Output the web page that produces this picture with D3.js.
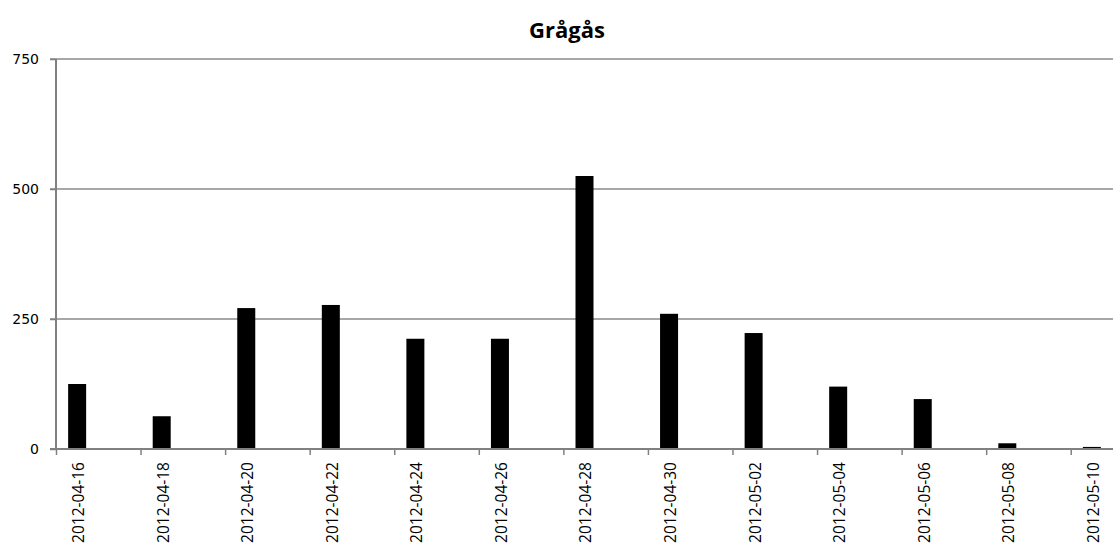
<!DOCTYPE html>
<html>
<head>
<meta charset="utf-8">
<script src="https://cdn.jsdelivr.net/npm/d3@7"></script>
<style>
  body { margin: 0; background: #fff; }
  svg { display: block; }
</style>
</head>
<body>
<svg id="chart" width="1113" height="546"></svg>
<script>
const title = "Grågås";
const dates = ["2012-04-16","2012-04-18","2012-04-20","2012-04-22","2012-04-24","2012-04-26","2012-04-28","2012-04-30","2012-05-02","2012-05-04","2012-05-06","2012-05-08","2012-05-10"];
const values = [125, 63, 271, 277, 212, 212, 525, 260, 223, 120, 96, 11, 4];
const yTicks = [0, 250, 500, 750];

(function () {
const parse = d3.utcParse("%Y-%m-%d");
const fmt = d3.utcFormat("%Y-%m-%d");
const svg = d3.select("#chart");
const mLeft = 56, mRight = 1113, mTop = 59, mBottom = 449;

const start = parse(dates[0]);
const end = d3.utcDay.offset(parse(dates[dates.length - 1]), 1);
const x = d3.scaleUtc().domain([start, end]).range([mLeft, mRight]);
const y = d3.scaleLinear().domain([0, 750]).range([mBottom, mTop]);
const half = d => d3.utcHour.offset(d, 12);
const barW = 18;

// gridlines
svg.append("g").selectAll("line").data(yTicks.filter(t => t > 0)).join("line")
  .attr("x1", mLeft - 6).attr("x2", mRight)
  .attr("y1", d => y(d)).attr("y2", d => y(d))
  .attr("stroke", "#8a8a8a").attr("stroke-width", 1.5);

// y axis
const yAxis = svg.append("g").attr("transform", `translate(${mLeft},0)`)
  .call(d3.axisLeft(y).tickValues(yTicks).tickSize(6).tickPadding(11));
yAxis.select(".domain").attr("stroke", "#808080").attr("stroke-width", 2)
  .attr("d", `M0,${mTop}V${mBottom}`);
yAxis.selectAll(".tick line").attr("stroke", "#808080").attr("stroke-width", 1.5);
yAxis.selectAll("text").attr("font-family", "DejaVu Sans, Verdana, sans-serif")
  .attr("font-size", 14).attr("fill", "#000");

// bars
svg.append("g").selectAll("rect").data(dates.map((d, i) => ({d: parse(d), v: values[i]}))).join("rect")
  .attr("x", d => x(half(d.d)) - barW / 2)
  .attr("width", barW)
  .attr("y", d => y(d.v))
  .attr("height", d => y(0) - y(d.v))
  .attr("fill", "#000");

// x axis tick marks at boundaries
const tickDates = dates.map(parse);
const xAxisTicks = svg.append("g").attr("transform", `translate(0,${mBottom})`)
  .call(d3.axisBottom(x).tickValues(tickDates).tickSize(6).tickFormat(""));
xAxisTicks.select(".domain").attr("stroke", "#808080").attr("stroke-width", 2)
  .attr("d", `M${mLeft - 6},0H${mRight}`);
xAxisTicks.selectAll(".tick line").attr("stroke", "#808080").attr("stroke-width", 1.5);

// x labels at day centers
const xLabels = svg.append("g").attr("transform", `translate(0,${mBottom})`)
  .call(d3.axisBottom(x).tickValues(tickDates.map(half)).tickSize(0).tickFormat(d => fmt(d3.utcHour.offset(d, -12))));
xLabels.select(".domain").remove();
xLabels.selectAll("text")
  .attr("font-family", "Open Sans, Liberation Sans, sans-serif")
  .attr("font-size", 15.5).attr("fill", "#000")
  .attr("text-anchor", "end")
  .attr("transform", "rotate(-90)")
  .attr("x", -13).attr("y", 1).attr("dy", "0.35em");

// title
svg.append("text").attr("x", 567).attr("y", 38)
  .attr("text-anchor", "middle")
  .attr("font-family", "Open Sans, Liberation Sans, sans-serif")
  .attr("font-weight", "bold").attr("font-size", 22)
  .text(title);
})();
</script>
</body>
</html>
